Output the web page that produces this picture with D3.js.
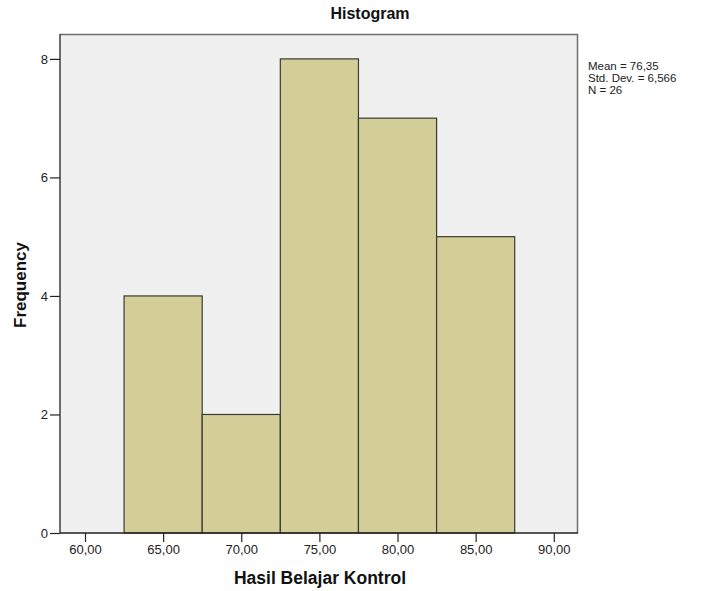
<!DOCTYPE html>
<html>
<head>
<meta charset="utf-8">
<script src="https://cdn.jsdelivr.net/npm/d3@7"></script>
<style>
  html, body { margin: 0; padding: 0; background: #fff; }
  svg { display: block; font-family: "Liberation Sans", Arial, sans-serif; }
</style>
</head>
<body>
<svg id="chart" width="707" height="591"></svg>
<script>
// ---- data ----
const binStarts = [62.5, 67.5, 72.5, 77.5, 82.5];
const binWidth = 5;
const frequencies = [4, 2, 8, 7, 5];
const xTickValues = [60, 65, 70, 75, 80, 85, 90];
const yTickValues = [0, 2, 4, 6, 8];
const statsLines = ["Mean = 76,35", "Std. Dev. = 6,566", "N = 26"];
const title = "Histogram";
const xTitle = "Hasil Belajar Kontrol";
const yTitle = "Frequency";

// ---- layout ----
const frame = { left: 60, right: 578, top: 34, bottom: 533 };
const svg = d3.select("#chart");

const x = d3.scaleLinear().domain([58.4, 91.55]).range([frame.left, frame.right]);
const y = d3.scaleLinear().domain([0, 8.42]).range([frame.bottom, frame.top]);

// plot background
svg.append("rect")
  .attr("x", frame.left).attr("y", frame.top)
  .attr("width", frame.right - frame.left).attr("height", frame.bottom - frame.top)
  .attr("fill", "#f0f0f0");

// top & right frame
svg.append("path")
  .attr("d", `M${frame.left},${frame.top + 0.5}H${frame.right - 0.5}V${frame.bottom}`)
  .attr("fill", "none").attr("stroke", "#6e6e6e").attr("stroke-width", 1.5);

// bars
svg.append("g").selectAll("rect")
  .data(binStarts.map((s, i) => ({ s, f: frequencies[i] })))
  .join("rect")
  .attr("x", d => x(d.s))
  .attr("y", d => y(d.f))
  .attr("width", d => x(d.s + binWidth) - x(d.s))
  .attr("height", d => y(0) - y(d.f))
  .attr("fill", "#d3ce98")
  .attr("stroke", "#3a3a34")
  .attr("stroke-width", 1.2);

// y axis
const yAxis = d3.axisLeft(y).tickValues(yTickValues).tickSize(10).tickPadding(2)
  .tickFormat(d3.format("d"));
const gy = svg.append("g").attr("transform", `translate(${frame.left},0)`).call(yAxis);
gy.select(".domain").attr("d", `M0,${frame.top}V${frame.bottom}`).attr("stroke", "#222").attr("stroke-width", 1.3);
gy.selectAll(".tick line").attr("stroke", "#222").attr("stroke-width", 1.2);
gy.selectAll(".tick text").attr("fill", "#222").style("font-size", "13px")
  .style("font-family", "'Liberation Sans', Arial, sans-serif");

// x axis
const xAxis = d3.axisBottom(x).tickValues(xTickValues).tickSize(9).tickPadding(3)
  .tickFormat(d => d3.format(".2f")(d).replace(".", ","));
const gx = svg.append("g").attr("transform", `translate(0,${frame.bottom})`).call(xAxis);
gx.select(".domain").attr("d", `M${frame.left},0H${frame.right}`).attr("stroke", "#222").attr("stroke-width", 1.3);
gx.selectAll(".tick line").attr("stroke", "#222").attr("stroke-width", 1.2);
gx.selectAll(".tick text").attr("fill", "#222").style("font-size", "13px")
  .style("font-family", "'Liberation Sans', Arial, sans-serif");

// title
svg.append("text")
  .attr("x", 370).attr("y", 19)
  .attr("text-anchor", "middle")
  .style("font-size", "16px").style("font-weight", "bold").attr("fill", "#111")
  .text(title);

// x title
svg.append("text")
  .attr("x", 320).attr("y", 584)
  .attr("text-anchor", "middle")
  .style("font-size", "17.5px").style("font-weight", "bold").attr("fill", "#111")
  .text(xTitle);

// y title
svg.append("text")
  .attr("transform", `translate(26,285) rotate(-90)`)
  .attr("text-anchor", "middle")
  .style("font-size", "17px").style("font-weight", "bold").attr("fill", "#111")
  .text(yTitle);

// stats
svg.append("g").selectAll("text")
  .data(statsLines)
  .join("text")
  .attr("x", 588)
  .attr("y", (d, i) => 70 + i * 12)
  .style("font-size", "11.5px").attr("fill", "#222")
  .text(d => d);
</script>
</body>
</html>
